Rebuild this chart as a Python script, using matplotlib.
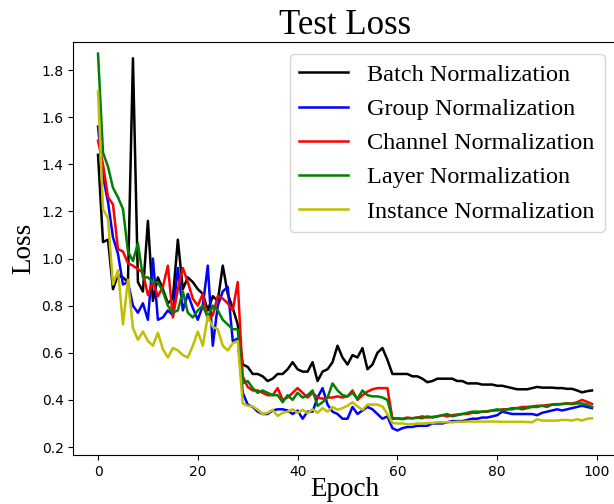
import numpy as np
import matplotlib
matplotlib.use("Agg")
import matplotlib.pyplot as plt

epochs = np.arange(100)

batch_norm = [
    1.44, 1.07, 1.08, 0.87, 0.93, 0.92, 0.90, 1.85, 0.90, 0.86,
    1.16, 0.82, 0.92, 0.87, 0.81, 0.83, 1.08, 0.87, 0.92, 0.90,
    0.87, 0.85, 0.78, 0.84, 0.82, 0.97, 0.85, 0.79, 0.72, 0.55,
    0.54, 0.51, 0.51, 0.50, 0.48, 0.49, 0.51, 0.51, 0.53, 0.56,
    0.53, 0.52, 0.52, 0.56, 0.48, 0.52, 0.53, 0.56, 0.63, 0.58,
    0.55, 0.59, 0.58, 0.62, 0.53, 0.55, 0.60, 0.62, 0.57, 0.51,
    0.51, 0.51, 0.51, 0.50, 0.50, 0.49, 0.475, 0.48, 0.49, 0.49,
    0.49, 0.49, 0.48, 0.48, 0.47, 0.47, 0.47, 0.465, 0.465, 0.465,
    0.46, 0.46, 0.455, 0.45, 0.445, 0.445, 0.445, 0.45, 0.455, 0.452,
    0.452, 0.452, 0.45, 0.45, 0.447, 0.447, 0.44, 0.432, 0.437, 0.44,
]

group_norm = [
    1.56, 1.35, 1.24, 1.09, 1.02, 0.89, 0.90, 0.80, 0.77, 0.81,
    0.74, 1.00, 0.74, 0.75, 0.78, 0.76, 0.96, 0.78, 0.85, 0.79,
    0.74, 0.80, 0.97, 0.63, 0.80, 0.86, 0.88, 0.65, 0.66, 0.43,
    0.38, 0.37, 0.35, 0.34, 0.34, 0.355, 0.36, 0.36, 0.355, 0.34,
    0.355, 0.32, 0.35, 0.35, 0.41, 0.45, 0.38, 0.35, 0.34, 0.32,
    0.32, 0.37, 0.34, 0.355, 0.37, 0.36, 0.34, 0.32, 0.33, 0.28,
    0.27, 0.28, 0.285, 0.285, 0.29, 0.29, 0.29, 0.30, 0.30, 0.30,
    0.305, 0.31, 0.31, 0.31, 0.315, 0.32, 0.32, 0.325, 0.325, 0.33,
    0.335, 0.35, 0.345, 0.34, 0.34, 0.34, 0.34, 0.34, 0.335, 0.345,
    0.35, 0.355, 0.36, 0.355, 0.36, 0.365, 0.37, 0.375, 0.37, 0.365,
]

channel_norm = [
    1.50, 1.40, 1.26, 1.23, 1.04, 1.03, 0.98, 0.97, 0.955, 0.94,
    0.845, 0.90, 0.84, 0.88, 0.97, 0.75, 0.87, 0.96, 0.90, 0.83,
    0.80, 0.85, 0.74, 0.76, 0.84, 0.83, 0.81, 0.78, 0.90, 0.50,
    0.455, 0.44, 0.44, 0.43, 0.42, 0.42, 0.45, 0.40, 0.41, 0.43,
    0.45, 0.43, 0.41, 0.43, 0.41, 0.405, 0.41, 0.41, 0.415, 0.41,
    0.415, 0.44, 0.40, 0.42, 0.435, 0.445, 0.45, 0.45, 0.45, 0.32,
    0.322, 0.32, 0.325, 0.322, 0.325, 0.33, 0.325, 0.328, 0.33, 0.335,
    0.33, 0.335, 0.338, 0.34, 0.34, 0.345, 0.345, 0.35, 0.35, 0.355,
    0.355, 0.36, 0.36, 0.365, 0.365, 0.37, 0.37, 0.372, 0.375, 0.375,
    0.378, 0.38, 0.38, 0.383, 0.385, 0.385, 0.39, 0.40, 0.392, 0.383,
]

layer_norm = [
    1.87, 1.45, 1.39, 1.30, 1.26, 1.21, 1.03, 0.99, 1.065, 0.92,
    0.92, 0.90, 0.90, 0.86, 0.80, 0.77, 0.78, 0.86, 0.77, 0.75,
    0.78, 0.80, 0.75, 0.80, 0.78, 0.74, 0.72, 0.70, 0.70, 0.47,
    0.48, 0.45, 0.43, 0.44, 0.43, 0.42, 0.42, 0.39, 0.42, 0.40,
    0.43, 0.41, 0.42, 0.44, 0.375, 0.39, 0.41, 0.47, 0.44, 0.42,
    0.415, 0.43, 0.405, 0.44, 0.42, 0.415, 0.415, 0.41, 0.40, 0.32,
    0.322, 0.318, 0.322, 0.322, 0.325, 0.322, 0.33, 0.325, 0.33, 0.335,
    0.34, 0.33, 0.335, 0.34, 0.345, 0.35, 0.35, 0.35, 0.352, 0.355,
    0.36, 0.355, 0.36, 0.36, 0.365, 0.36, 0.365, 0.37, 0.37, 0.375,
    0.37, 0.38, 0.382, 0.382, 0.385, 0.382, 0.385, 0.385, 0.38, 0.37,
]

instance_norm = [
    1.71, 1.21, 1.17, 0.89, 0.95, 0.72, 0.91, 0.705, 0.655, 0.69,
    0.65, 0.63, 0.685, 0.615, 0.58, 0.62, 0.61, 0.59, 0.58, 0.63,
    0.69, 0.63, 0.755, 0.71, 0.70, 0.63, 0.61, 0.64, 0.65, 0.385,
    0.375, 0.372, 0.358, 0.34, 0.345, 0.358, 0.332, 0.345, 0.35, 0.36,
    0.345, 0.358, 0.343, 0.36, 0.345, 0.365, 0.35, 0.37, 0.358, 0.365,
    0.375, 0.39, 0.372, 0.358, 0.38, 0.38, 0.38, 0.372, 0.34, 0.302,
    0.30, 0.30, 0.297, 0.297, 0.30, 0.30, 0.302, 0.302, 0.305, 0.305,
    0.305, 0.305, 0.307, 0.307, 0.308, 0.308, 0.308, 0.308, 0.308, 0.308,
    0.308, 0.307, 0.307, 0.307, 0.307, 0.307, 0.306, 0.305, 0.318, 0.312,
    0.312, 0.312, 0.312, 0.315, 0.315, 0.312, 0.318, 0.312, 0.32, 0.322,
]

series = [
    ("Batch Normalization", batch_norm, "k"),
    ("Group Normalization", group_norm, "b"),
    ("Channel Normalization", channel_norm, "r"),
    ("Layer Normalization", layer_norm, "g"),
    ("Instance Normalization", instance_norm, "y"),
]

serif = ["Liberation Serif", "DejaVu Serif"]

fig = plt.figure(figsize=(6.14, 5.04), dpi=100)
ax = fig.add_axes([0.1194, 0.0972, 0.885, 0.8194])

for name, vals, col in series:
    ax.plot(epochs, vals, color=col, linewidth=1.8, label=name)

ax.set_xlim(-4.95, 103.95)
ax.set_ylim(0.166, 1.919)
ax.set_yticks([0.2, 0.4, 0.6, 0.8, 1.0, 1.2, 1.4, 1.6, 1.8])

ax.set_title("Test Loss", fontsize=25, family=serif)
ax.set_xlabel("Epoch", fontsize=19.5, family=serif, labelpad=-1)
ax.set_ylabel("Loss", fontsize=19.5, family=serif)
ax.legend(loc="upper right", prop={"family": serif, "size": 17.5},
          labelspacing=0.5)

fig.savefig("out.png", dpi=100)
